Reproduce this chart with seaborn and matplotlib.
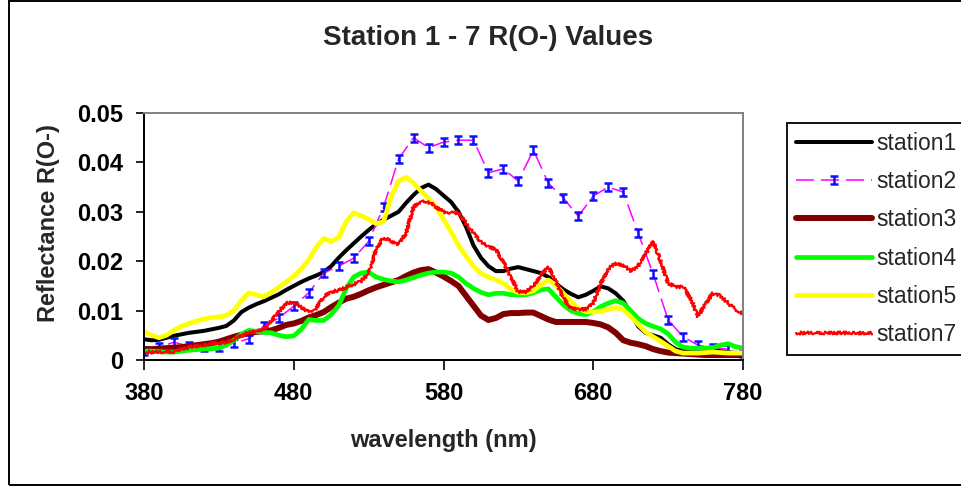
import numpy as np
import pandas as pd
import matplotlib
matplotlib.use("Agg")
import matplotlib.pyplot as plt
import seaborn as sns
from matplotlib.path import Path
from matplotlib.patches import Rectangle

# ---------------- data ----------------
wavelength = np.arange(380, 781, 5)      # 5 nm grid
wavelength10 = np.arange(380, 781, 10)   # station2 sampled every 10 nm

station1 = [
    .0042, .0040, .0041, .0045, .0049, .0052, .0055, .0057, .0059, .0062,
    .0065, .0069, .0080, .0097, .0106, .0113, .0119, .0126, .0133, .0142,
    .0150, .0158, .0165, .0171, .0178, .0190, .0207, .0222, .0236, .0250,
    .0263, .0275, .0284, .0292, .0300, .0318, .0334, .0348, .0355, .0346,
    .0333, .0320, .0300, .0270, .0232, .0207, .0190, .0180, .0180, .0185,
    .0188, .0184, .0180, .0176, .0168, .0155, .0143, .0134, .0127, .0132,
    .0140, .0149, .0145, .0135, .0120, .0095, .0068, .0055, .0050, .0045,
    .0032, .0022, .0018, .0018, .0018, .0019, .0020, .0018, .0016, .0014,
    .0012]

station2 = [
    .0018, .0026, .0036, .0028, .0026, .0026, .0034, .0043, .0069, .0085,
    .0109, .0136, .0176, .0190, .0206, .0240, .0310, .0407, .0450, .0430,
    .0441, .0445, .0445, .0379, .0387, .0362, .0425, .0358, .0328, .0291,
    .0332, .0350, .0340, .0257, .0174, .0081, .0047, .0030, .0024, .0022,
    .0014]

station3 = [
    .0022, .0022, .0023, .0024, .0025, .0026, .0028, .0030, .0032, .0034,
    .0037, .0042, .0047, .0051, .0055, .0057, .0058, .0060, .0065, .0071,
    .0074, .0079, .0086, .0091, .0097, .0107, .0116, .0124, .0128, .0134,
    .0141, .0147, .0152, .0157, .0162, .0170, .0177, .0182, .0184, .0177,
    .0169, .0160, .0150, .0130, .0110, .0090, .0081, .0085, .0093, .0095,
    .0095, .0096, .0096, .0089, .0082, .0077, .0077, .0077, .0077, .0077,
    .0075, .0072, .0066, .0055, .0040, .0035, .0032, .0028, .0022, .0018,
    .0015, .0014, .0013, .0012, .0011, .0010, .0010, .0010, .0010, .0010,
    .0010]

station4 = [
    .0018, .0018, .0017, .0016, .0016, .0018, .0020, .0021, .0022, .0023,
    .0024, .0030, .0040, .0052, .0060, .0058, .0056, .0055, .0050, .0047,
    .0049, .0062, .0082, .0080, .0080, .0092, .0110, .0145, .0168, .0176,
    .0178, .0168, .0163, .0160, .0158, .0162, .0167, .0172, .0176, .0178,
    .0178, .0176, .0168, .0155, .0145, .0137, .0132, .0135, .0135, .0132,
    .0132, .0132, .0136, .0142, .0144, .0128, .0112, .0100, .0094, .0092,
    .0098, .0108, .0115, .0120, .0115, .0100, .0084, .0074, .0068, .0063,
    .0053, .0036, .0026, .0024, .0024, .0024, .0025, .0030, .0033, .0027,
    .0024]

station5 = [
    .0058, .0050, .0045, .0050, .0060, .0068, .0074, .0079, .0083, .0086,
    .0087, .0090, .0100, .0120, .0136, .0132, .0128, .0137, .0147, .0158,
    .0170, .0184, .0203, .0228, .0246, .0240, .0248, .0280, .0298, .0292,
    .0285, .0276, .0280, .0330, .0362, .0370, .0358, .0342, .0327, .0310,
    .0285, .0260, .0232, .0210, .0190, .0175, .0168, .0162, .0155, .0143,
    .0137, .0136, .0140, .0152, .0162, .0152, .0135, .0118, .0105, .0098,
    .0097, .0099, .0102, .0106, .0102, .0088, .0072, .0057, .0047, .0038,
    .0028, .0018, .0014, .0014, .0014, .0015, .0016, .0015, .0014, .0014,
    .0014]

station7 = [
    .0016, .0016, .0016, .0016, .0017, .0022, .0026, .0028, .0030, .0034,
    .0035, .0036, .0042, .0049, .0056, .0059, .0062, .0079, .0098, .0115,
    .0117, .0106, .0097, .0105, .0128, .0138, .0141, .0147, .0153, .0160,
    .0175, .0225, .0248, .0240, .0234, .0257, .0310, .0322, .0320, .0310,
    .0300, .0298, .0298, .0277, .0256, .0240, .0230, .0223, .0198, .0168,
    .0138, .0138, .0150, .0172, .0188, .0160, .0125, .0106, .0102, .0103,
    .0115, .0155, .0185, .0196, .0192, .0180, .0190, .0215, .0240, .0200,
    .0155, .0148, .0148, .0125, .0088, .0115, .0135, .0130, .0115, .0102,
    .0094]

xticks = [380, 480, 580, 680, 780]
yticks = [0, 0.01, 0.02, 0.03, 0.04, 0.05]
ytick_labels = ["0", "0.01", "0.02", "0.03", "0.04", "0.05"]

df = pd.DataFrame({"wavelength": wavelength, "station1": station1,
                   "station3": station3, "station4": station4,
                   "station5": station5, "station7": station7})
df2 = pd.DataFrame({"wavelength": wavelength10, "station2": station2})

# ---------------- style ----------------
sns.set_style("white")
plt.rcParams["font.family"] = ["Liberation Sans", "DejaVu Sans"]
plt.rcParams["lines.scale_dashes"] = False

W, H = 961, 486
fig = plt.figure(figsize=(W / 100, H / 100), dpi=100)
ax = fig.add_axes([144 / W, 126 / H, 599 / W, 247 / H])

# "I"-shaped marker used by Excel for station2
imark = Path([(-0.5, 0.5), (0.5, 0.5), (0, 0.5), (0, -0.5), (-0.5, -0.5), (0.5, -0.5)],
             [Path.MOVETO, Path.LINETO, Path.MOVETO, Path.LINETO, Path.MOVETO, Path.LINETO])

sns.lineplot(data=df, x="wavelength", y="station1", ax=ax, color="black",
             lw=2.9, label="station1")
sns.lineplot(data=df2, x="wavelength", y="station2", ax=ax, color="#FF00FF",
             lw=1.1, linestyle=(0, (13, 5)), marker=imark, markersize=5.5,
             markeredgecolor="#1010FF", markerfacecolor="none",
             markeredgewidth=1.8, label="station2")
sns.lineplot(data=df, x="wavelength", y="station3", ax=ax, color="#800000",
             lw=4.3, label="station3")
sns.lineplot(data=df, x="wavelength", y="station4", ax=ax, color="#00FF00",
             lw=3.4, label="station4")
sns.lineplot(data=df, x="wavelength", y="station5", ax=ax, color="#FFFF00",
             lw=3.4, label="station5")
sns.lineplot(data=df, x="wavelength", y="station7", ax=ax, color="#FF0000",
             lw=1.6, label="station7")
ax.lines[-1].set_sketch_params(1.5, 2.5, 2.0)

ax.set_xlim(380, 780)
ax.set_ylim(0, 0.05)
ax.set_xticks(xticks)
ax.set_xticklabels([str(v) for v in xticks])
ax.set_yticks(yticks)
ax.set_yticklabels(ytick_labels)

ax.tick_params(axis="x", bottom=True, direction="out", length=7, width=1.2,
               pad=9, labelsize=17, colors="black")
ax.tick_params(axis="y", left=True, direction="out", length=6, width=1.2,
               pad=9, labelsize=17, colors="black")
for lab in ax.get_xticklabels() + ax.get_yticklabels():
    lab.set_fontweight("bold")

for side in ["left", "bottom"]:
    ax.spines[side].set_color("black")
    ax.spines[side].set_linewidth(1.4)
for side in ["top", "right"]:
    ax.spines[side].set_color("#808080")
    ax.spines[side].set_linewidth(1.4)

ax.set_xlabel("wavelength (nm)", fontsize=17, fontweight="bold", va="top")
ax.xaxis.set_label_coords(0.5, -0.279)
ax.set_ylabel("Reflectance R(O-)", fontsize=17, fontweight="bold")
ax.yaxis.set_label_coords(-0.140, 0.555)

fig.text(488 / W, 1 - 38 / H, "Station 1 - 7 R(O-) Values", ha="center",
         va="center", fontsize=20, fontweight="bold")

handles, labels = ax.get_legend_handles_labels()
if ax.get_legend() is not None:
    ax.get_legend().remove()
leg = fig.legend(handles, labels, loc="upper left",
                 bbox_to_anchor=(787 / W, 1 - 123 / H), bbox_transform=fig.transFigure,
                 borderaxespad=0, fontsize=16.5, handlelength=3.3, handletextpad=0.2,
                 labelspacing=0.66, borderpad=0.4, numpoints=1,
                 fancybox=False, framealpha=1, edgecolor="black")
leg.get_frame().set_linewidth(1.3)

# outer chart-area border
fig.patches.append(Rectangle((9 / W, 1 / H), 1.0, 1 - 2.5 / H, transform=fig.transFigure,
                             fill=False, edgecolor="black", linewidth=1.4))

fig.savefig("out.png", dpi=100)
